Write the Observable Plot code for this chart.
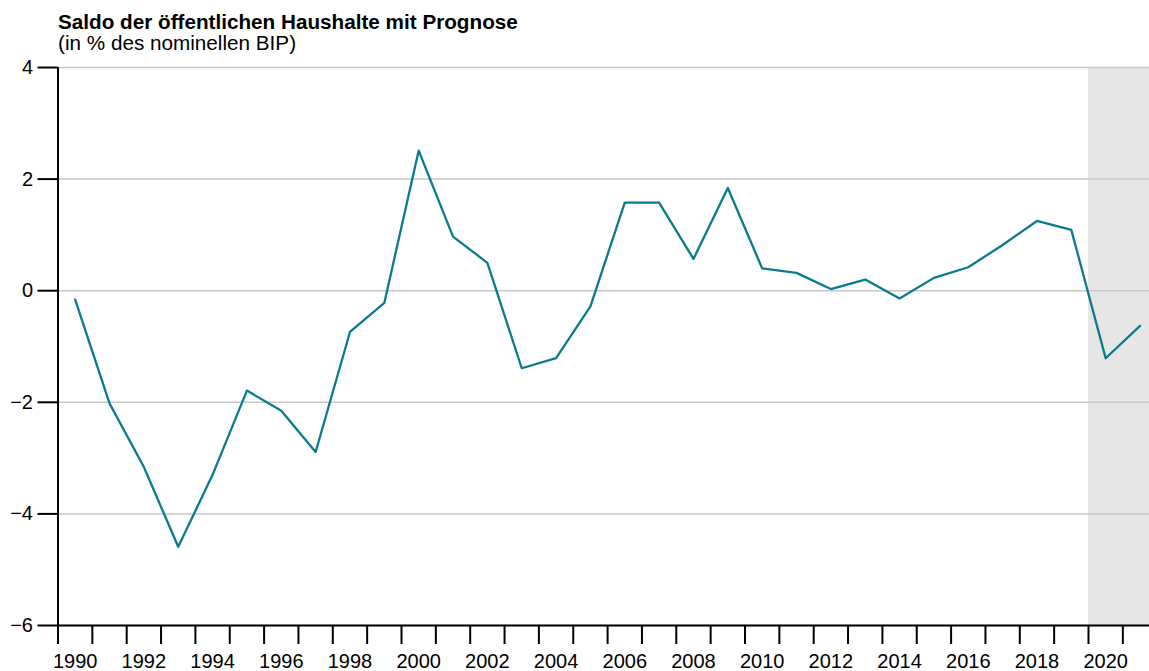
<!DOCTYPE html>
<html>
<head>
<meta charset="utf-8">
<script src="https://cdn.jsdelivr.net/npm/d3@7"></script>
<script src="https://cdn.jsdelivr.net/npm/@observablehq/plot@0.6"></script>
<style>
  html, body { margin: 0; padding: 0; background: #fff; }
  body { width: 1149px; height: 671px; overflow: hidden; font-family: "Liberation Sans", Arial, Helvetica, sans-serif; }
  #header { height: 56px; box-sizing: border-box; padding: 11px 0 0 58px; color: #000; }
  #title { font-size: 20.7px; font-weight: bold; line-height: 21px; }
  #subtitle { font-size: 20.7px; line-height: 21px; }
</style>
</head>
<body>
<div id="header">
  <div id="title">Saldo der öffentlichen Haushalte mit Prognose</div>
  <div id="subtitle">(in % des nominellen BIP)</div>
</div>
<div id="chart"></div>
<script>
const years = [1990,1991,1992,1993,1994,1995,1996,1997,1998,1999,2000,2001,2002,2003,2004,2005,2006,2007,2008,2009,2010,2011,2012,2013,2014,2015,2016,2017,2018,2019,2020,2021];
const values = [-0.16,-2.02,-3.16,-4.59,-3.30,-1.79,-2.15,-2.89,-0.74,-0.22,2.51,0.97,0.50,-1.39,-1.21,-0.28,1.58,1.58,0.57,1.84,0.40,0.32,0.03,0.20,-0.14,0.23,0.42,0.82,1.25,1.09,-1.21,-0.63];
const yTicks = [-6,-4,-2,0,2,4];
const xLabelYears = [1990,1992,1994,1996,1998,2000,2002,2004,2006,2008,2010,2012,2014,2016,2018,2020];
const xTickPositions = [1989.5,1990.5,1991.5,1992.5,1993.5,1994.5,1995.5,1996.5,1997.5,1998.5,1999.5,2000.5,2001.5,2002.5,2003.5,2004.5,2005.5,2006.5,2007.5,2008.5,2009.5,2010.5,2011.5,2012.5,2013.5,2014.5,2015.5,2016.5,2017.5,2018.5,2019.5,2020.5];
const forecastStart = 2019.5;
const xDomain = [1989.5, 2021.276];
const yDomain = [-6, 4];

const data = years.map((y, i) => ({year: y, value: values[i]}));

const chart = Plot.plot({
  width: 1149,
  height: 615,
  marginLeft: 57.5,
  marginRight: 0,
  marginTop: 11,
  marginBottom: 46,
  style: {fontSize: "20px", fontFamily: "'Liberation Sans', Arial, Helvetica, sans-serif", color: "#000", background: "#fff"},
  x: {domain: xDomain, axis: null},
  y: {domain: yDomain, axis: null},
  marks: [
    Plot.rect([{x1: forecastStart, x2: xDomain[1], y1: yDomain[0], y2: yDomain[1]}], {x1: "x1", x2: "x2", y1: "y1", y2: "y2", fill: "#e6e6e6"}),
    Plot.gridY(yTicks, {stroke: "#c8c8c8", strokeOpacity: 1, strokeWidth: 1.5}),
    Plot.line(data, {x: "year", y: "value", stroke: "#0a7b8f", strokeWidth: 2.3}),
    Plot.ruleX([xDomain[0]], {y1: yDomain[0], y2: yDomain[1], stroke: "#000", strokeWidth: 2}),
    Plot.ruleY([yDomain[0]], {stroke: "#000", strokeWidth: 2}),
    Plot.axisY({ticks: yTicks, tickSize: 20, tickPadding: 5, strokeWidth: 2, fontSize: 20, tickFormat: d => d < 0 ? "\u2212" + Math.abs(d) : String(d)}),
    Plot.axisX({ticks: xTickPositions, tickSize: 19, strokeWidth: 2, tickFormat: () => ""}),
    Plot.axisX({ticks: xLabelYears, tickSize: 0, tickPadding: 28, fontSize: 20, tickFormat: d => String(d)})
  ]
});
document.getElementById("chart").appendChild(chart);
</script>
</body>
</html>
